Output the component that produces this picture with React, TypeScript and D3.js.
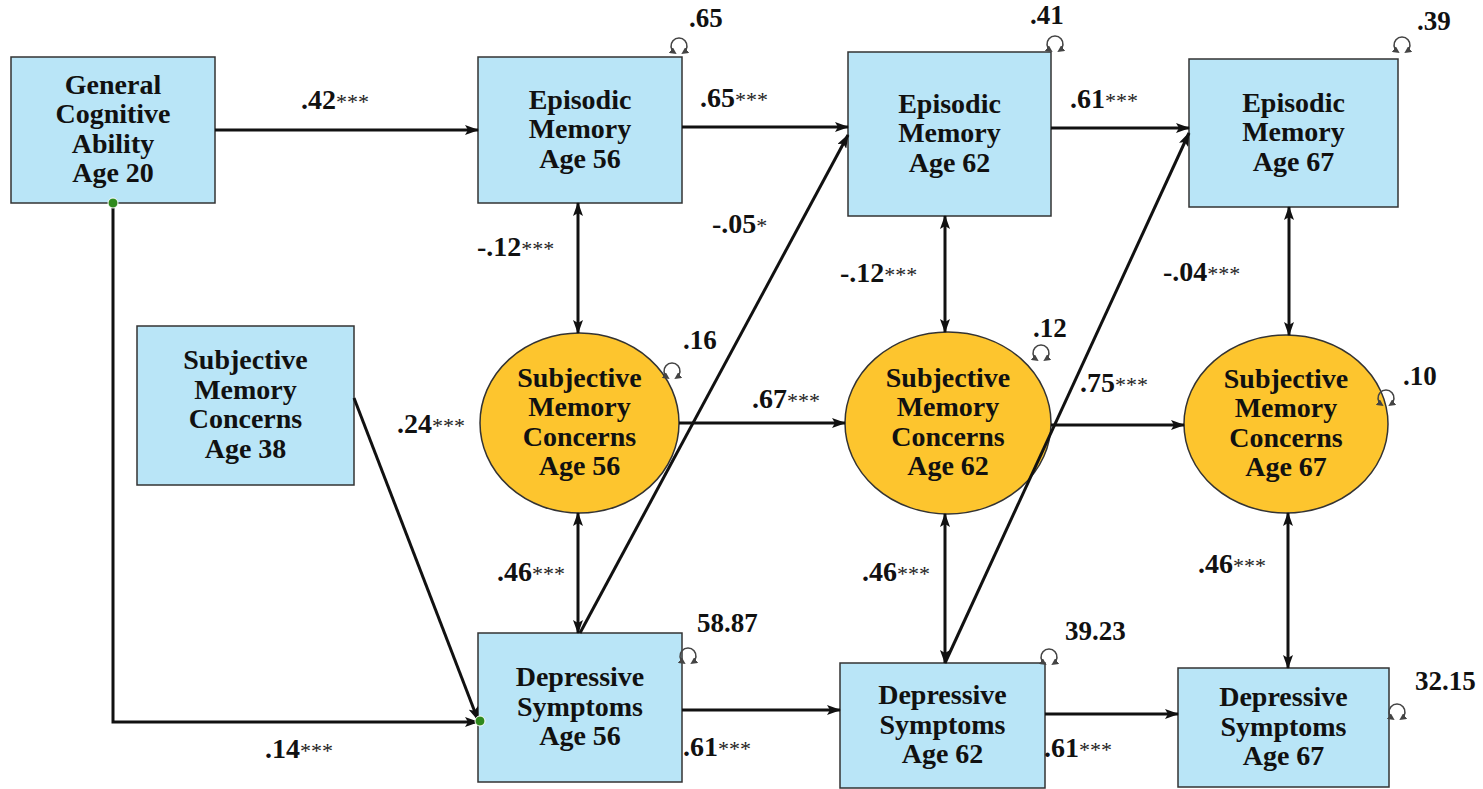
import React from 'react';
import * as d3 from 'd3';

const width = 1483;
const height = 789;

// nodes
const nodeIds = ['gca', 'em56', 'em62', 'em67', 'smc38', 'smc56', 'smc62', 'smc67', 'ds56', 'ds62', 'ds67'];
const nodeLabels = [
  ['General', 'Cognitive', 'Ability', 'Age 20'],
  ['Episodic', 'Memory', 'Age 56'],
  ['Episodic', 'Memory', 'Age 62'],
  ['Episodic', 'Memory', 'Age 67'],
  ['Subjective', 'Memory', 'Concerns', 'Age 38'],
  ['Subjective', 'Memory', 'Concerns', 'Age 56'],
  ['Subjective', 'Memory', 'Concerns', 'Age 62'],
  ['Subjective', 'Memory', 'Concerns', 'Age 67'],
  ['Depressive', 'Symptoms', 'Age 56'],
  ['Depressive', 'Symptoms', 'Age 62'],
  ['Depressive', 'Symptoms', 'Age 67'],
];
const residuals = ['', '.65', '.41', '.39', '', '.16', '.12', '.10', '58.87', '39.23', '32.15'];

// paths: from, to, estimate, significance, two-headed?
const edgeFrom = ['gca', 'em56', 'em62', 'em56', 'em62', 'em67', 'smc56', 'smc62', 'smc56', 'smc62', 'smc67', 'ds56', 'ds62', 'ds56', 'ds62', 'smc38', 'gca'];
const edgeTo = ['em56', 'em62', 'em67', 'smc56', 'smc62', 'smc67', 'smc62', 'smc67', 'ds56', 'ds62', 'ds67', 'ds62', 'ds67', 'em62', 'em67', 'ds56', 'ds56'];
const edgeCoef = ['.42', '.65', '.61', '-.12', '-.12', '', '.67', '.75', '.46', '.46', '.46', '.61', '.61', '-.05', '-.04', '.24', '.14'];
const edgeSig = ['***', '***', '***', '***', '***', '', '***', '***', '***', '***', '***', '***', '***', '*', '***', '***', '***'];
const edgeTwoWay = [false, false, false, true, true, true, false, false, true, true, true, false, false, false, false, false, false];

// layout (kept apart from data)
type Shape = { kind: 'rect' | 'ellipse'; x: number; y: number; w: number; h: number };
const shapes: Record<string, Shape> = {
  gca: { kind: 'rect', x: 11, y: 57, w: 204, h: 146 },
  em56: { kind: 'rect', x: 478, y: 57, w: 204, h: 146 },
  em62: { kind: 'rect', x: 848, y: 52, w: 203, h: 164 },
  em67: { kind: 'rect', x: 1189, y: 59, w: 209, h: 148 },
  smc38: { kind: 'rect', x: 137, y: 326, w: 217, h: 159 },
  smc56: { kind: 'ellipse', x: 480, y: 333, w: 199, h: 180 },
  smc62: { kind: 'ellipse', x: 845, y: 332, w: 206, h: 182 },
  smc67: { kind: 'ellipse', x: 1184, y: 335, w: 204, h: 178 },
  ds56: { kind: 'rect', x: 478, y: 633, w: 204, h: 149 },
  ds62: { kind: 'rect', x: 840, y: 663, w: 205, h: 125 },
  ds67: { kind: 'rect', x: 1178, y: 668, w: 211, h: 119 },
};
// side + lane for each path end
const edgeAnchors: [string, number, string, number][] = [
  ['right', 130, 'left', 130],
  ['right', 127, 'left', 127],
  ['right', 128, 'left', 128],
  ['bottom', 578, 'top', 578],
  ['bottom', 945, 'top', 945],
  ['bottom', 1289, 'top', 1289],
  ['right', 423, 'left', 423],
  ['right', 425, 'left', 425],
  ['bottom', 578, 'top', 578],
  ['bottom', 945, 'top', 945],
  ['bottom', 1288, 'top', 1288],
  ['right', 710, 'left', 710],
  ['right', 714, 'left', 714],
  ['top', 580, 'left', 135],
  ['top', 945, 'left', 133],
  ['right', 398, 'left', 720],
  ['bottom', 113, 'left', 722],
];
const labelPos: [number, number][] = [
  [301, 109], [700, 107], [1070, 108], [477, 256], [840, 282], [0, 0],
  [752, 408], [1080, 392], [497, 581], [862, 581], [1198, 573],
  [683, 756], [1044, 757], [712, 233], [1163, 281], [397, 433], [265, 758],
];
const loopPos: Record<string, [number, number]> = {
  em56: [679, 46], em62: [1055, 44], em67: [1402, 45],
  smc56: [672, 371], smc62: [1041, 353], smc67: [1386, 398],
  ds56: [688, 656], ds62: [1049, 657], ds67: [1397, 712],
};
const residualPos: Record<string, [number, number]> = {
  em56: [689, 27], em62: [1030, 24], em67: [1417, 30],
  smc56: [683, 349], smc62: [1033, 337], smc67: [1403, 385],
  ds56: [697, 632], ds62: [1065, 640], ds67: [1415, 690],
};

const serif = { fontFamily: "'Liberation Serif'" };

function anchor(id: string, side: string, at: number): [number, number] {
  const s = shapes[id];
  if (s.kind === 'rect') {
    if (side === 'right') return [s.x + s.w, at];
    if (side === 'left') return [s.x, at];
    if (side === 'top') return [at, s.y];
    return [at, s.y + s.h];
  }
  const cx = s.x + s.w / 2, cy = s.y + s.h / 2, rx = s.w / 2, ry = s.h / 2;
  if (side === 'right' || side === 'left') {
    const dx = rx * Math.sqrt(Math.max(0, 1 - ((at - cy) / ry) ** 2));
    return [side === 'right' ? cx + dx : cx - dx, at];
  }
  const dy = ry * Math.sqrt(Math.max(0, 1 - ((at - cx) / rx) ** 2));
  return [at, side === 'top' ? cy - dy : cy + dy];
}

function loopPath(cx: number, cy: number, r: number) {
  const p = d3.path();
  const a0 = Math.PI / 2 + 0.6;
  const a1 = Math.PI / 2 - 0.6 + 2 * Math.PI;
  p.moveTo(cx + r * Math.cos(a0), cy + r * Math.sin(a0));
  p.arc(cx, cy, r, a0, a1);
  return p.toString();
}

export default function App() {
  const line = d3.line();
  return (
    <svg width={width} height={height} style={{ position: 'absolute', left: 0, top: 0, background: '#fff' }}>
      <defs>
        <marker id="head" viewBox="0 0 14 10" refX="13" refY="5" markerWidth="14" markerHeight="10"
          markerUnits="userSpaceOnUse" orient="auto-start-reverse">
          <path d="M0,0 L14,5 L0,10 L3,5 Z" fill="#111" />
        </marker>
        <marker id="smallhead" viewBox="0 0 8 8" refX="5" refY="4" markerWidth="7" markerHeight="7"
          markerUnits="userSpaceOnUse" orient="auto-start-reverse">
          <path d="M0,0 L8,4 L0,8 Z" fill="#444" />
        </marker>
      </defs>

      {nodeIds.map((id, i) => {
        const s = shapes[id];
        const cx = s.x + s.w / 2, cy = s.y + s.h / 2;
        const lines = nodeLabels[i];
        const lh = 29.5;
        const y0 = cy - ((lines.length - 1) * lh) / 2 + 8;
        return (
          <g key={id}>
            {s.kind === 'rect' ? (
              <rect x={s.x} y={s.y} width={s.w} height={s.h} fill="#b9e5f7" stroke="#333" strokeWidth={1.5} />
            ) : (
              <ellipse cx={cx} cy={cy} rx={s.w / 2} ry={s.h / 2} fill="#fdc52e" stroke="#333" strokeWidth={1.5} />
            )}
            {lines.map((t, j) => (
              <text key={j} x={cx} y={y0 + j * lh} textAnchor="middle" fontSize={28} fontWeight="bold"
                style={serif} fill="#111">{t}</text>
            ))}
          </g>
        );
      })}

      {edgeFrom.map((f, i) => {
        const [fs, fa, ts, ta] = edgeAnchors[i];
        const p1 = anchor(f, fs, fa);
        const p2 = anchor(edgeTo[i], ts, ta);
        let pts: [number, number][] = [p1, p2];
        if (fs === 'bottom' && ts === 'left') pts = [p1, [p1[0], p2[1]], p2];
        return (
          <path key={i} d={line(pts) || ''} fill="none" stroke="#111" strokeWidth={3}
            markerEnd="url(#head)" markerStart={edgeTwoWay[i] ? 'url(#head)' : undefined} />
        );
      })}

      {edgeCoef.map((c, i) => c ? (
        <text key={i} x={labelPos[i][0]} y={labelPos[i][1]} fontSize={28} fontWeight="bold" style={serif} fill="#111">
          {c}<tspan fontSize={22} fontWeight="normal" fill="#222">{edgeSig[i]}</tspan>
        </text>
      ) : null)}

      {/* green junction dots */}
      <circle cx={anchor('gca', 'bottom', 113)[0]} cy={anchor('gca', 'bottom', 113)[1]} r={5} fill="#2f8a1d" stroke="#fff" strokeWidth={1} />
      <circle cx={anchor('ds56', 'left', 721)[0] + 2} cy={721} r={5} fill="#2f8a1d" stroke="#fff" strokeWidth={1} />

      {nodeIds.map((id, i) => residuals[i] ? (
        <g key={'r' + id}>
          <path d={loopPath(loopPos[id][0], loopPos[id][1], 8)} fill="none" stroke="#444" strokeWidth={1.6}
            markerStart="url(#smallhead)" markerEnd="url(#smallhead)" />
          <text x={residualPos[id][0]} y={residualPos[id][1]} fontSize={27} fontWeight="bold" style={serif}
            fill="#111">{residuals[i]}</text>
        </g>
      ) : null)}
    </svg>
  );
}
